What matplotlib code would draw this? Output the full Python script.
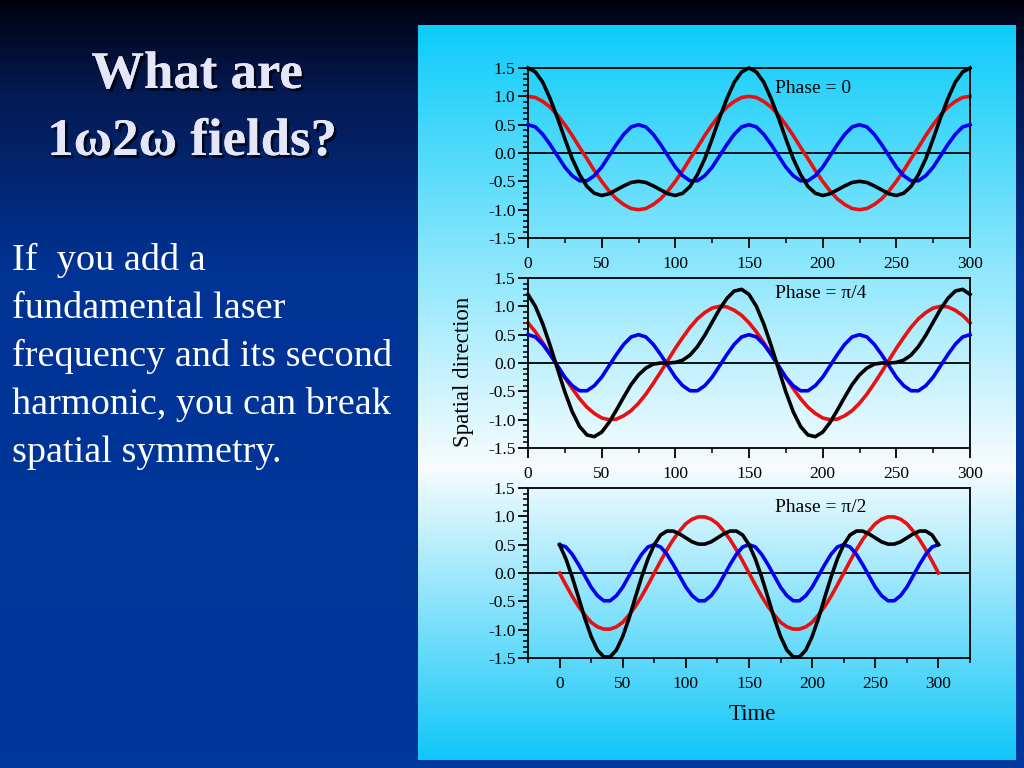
import numpy as np
import matplotlib
matplotlib.use("Agg")
import matplotlib.pyplot as plt
import matplotlib.patheffects as pe
from matplotlib.ticker import MultipleLocator, FormatStrFormatter

plt.rcParams["axes.unicode_minus"] = False
plt.rcParams["font.family"] = ["Liberation Serif", "DejaVu Serif"]

# Tempo (amostras a cada 5 unidades)
tempo = list(range(0, 301, 5))

# Harmônico (2w) - igual nos três painéis
azul = [0.50, 0.46, 0.33, 0.15, -0.05, -0.25, -0.40, -0.49, -0.49, -0.40, -0.25, -0.05, 0.15, 0.33, 0.46,
        0.50, 0.46, 0.33, 0.15, -0.05, -0.25, -0.40, -0.49, -0.49, -0.40, -0.25, -0.05, 0.15, 0.33, 0.46,
        0.50, 0.46, 0.33, 0.15, -0.05, -0.25, -0.40, -0.49, -0.49, -0.40, -0.25, -0.05, 0.15, 0.33, 0.46,
        0.50, 0.46, 0.33, 0.15, -0.05, -0.25, -0.40, -0.49, -0.49, -0.40, -0.25, -0.05, 0.15, 0.33, 0.46,
        0.50]

# Fase = 0
vermelho_0 = [1.00, 0.98, 0.91, 0.81, 0.67, 0.50, 0.31, 0.10, -0.10, -0.31, -0.50, -0.67, -0.81, -0.91, -0.98,
              -1.00, -0.98, -0.91, -0.81, -0.67, -0.50, -0.31, -0.10, 0.10, 0.31, 0.50, 0.67, 0.81, 0.91, 0.98,
              1.00, 0.98, 0.91, 0.81, 0.67, 0.50, 0.31, 0.10, -0.10, -0.31, -0.50, -0.67, -0.81, -0.91, -0.98,
              -1.00, -0.98, -0.91, -0.81, -0.67, -0.50, -0.31, -0.10, 0.10, 0.31, 0.50, 0.67, 0.81, 0.91, 0.98,
              1.00]
preto_0 = [1.50, 1.43, 1.25, 0.96, 0.62, 0.25, -0.10, -0.38, -0.59, -0.71, -0.75, -0.72, -0.65, -0.58, -0.52,
           -0.50, -0.52, -0.58, -0.65, -0.72, -0.75, -0.71, -0.59, -0.38, -0.10, 0.25, 0.62, 0.96, 1.25, 1.43,
           1.50, 1.43, 1.25, 0.96, 0.62, 0.25, -0.10, -0.38, -0.59, -0.71, -0.75, -0.72, -0.65, -0.58, -0.52,
           -0.50, -0.52, -0.58, -0.65, -0.72, -0.75, -0.71, -0.59, -0.38, -0.10, 0.25, 0.62, 0.96, 1.25, 1.43,
           1.50]

# Fase = pi/4
vermelho_pi4 = [0.71, 0.55, 0.36, 0.16, -0.05, -0.26, -0.45, -0.63, -0.78, -0.89, -0.97, -1.00, -0.99, -0.93, -0.84,
                -0.71, -0.55, -0.36, -0.16, 0.05, 0.26, 0.45, 0.63, 0.78, 0.89, 0.97, 1.00, 0.99, 0.93, 0.84,
                0.71, 0.55, 0.36, 0.16, -0.05, -0.26, -0.45, -0.63, -0.78, -0.89, -0.97, -1.00, -0.99, -0.93, -0.84,
                -0.71, -0.55, -0.36, -0.16, 0.05, 0.26, 0.45, 0.63, 0.78, 0.89, 0.97, 1.00, 0.99, 0.93, 0.84,
                0.71]
preto_pi4 = [1.21, 1.00, 0.69, 0.31, -0.10, -0.51, -0.86, -1.12, -1.27, -1.30, -1.22, -1.05, -0.83, -0.60, -0.38,
             -0.21, -0.09, -0.02, 0.00, 0.00, 0.01, 0.05, 0.14, 0.29, 0.49, 0.72, 0.95, 1.14, 1.27, 1.30,
             1.21, 1.00, 0.69, 0.31, -0.10, -0.51, -0.86, -1.12, -1.27, -1.30, -1.22, -1.05, -0.83, -0.60, -0.38,
             -0.21, -0.09, -0.02, 0.00, 0.00, 0.01, 0.05, 0.14, 0.29, 0.49, 0.72, 0.95, 1.14, 1.27, 1.30,
             1.21]

# Fase = pi/2
vermelho_pi2 = [0.00, -0.21, -0.41, -0.59, -0.74, -0.87, -0.95, -0.99, -0.99, -0.95, -0.87, -0.74, -0.59, -0.41, -0.21,
                0.00, 0.21, 0.41, 0.59, 0.74, 0.87, 0.95, 0.99, 0.99, 0.95, 0.87, 0.74, 0.59, 0.41, 0.21,
                0.00, -0.21, -0.41, -0.59, -0.74, -0.87, -0.95, -0.99, -0.99, -0.95, -0.87, -0.74, -0.59, -0.41, -0.21,
                0.00, 0.21, 0.41, 0.59, 0.74, 0.87, 0.95, 0.99, 0.99, 0.95, 0.87, 0.74, 0.59, 0.41, 0.21,
                0.00]
preto_pi2 = [0.50, 0.25, -0.07, -0.43, -0.80, -1.12, -1.36, -1.48, -1.48, -1.36, -1.12, -0.80, -0.43, -0.07, 0.25,
             0.50, 0.67, 0.74, 0.74, 0.69, 0.62, 0.55, 0.51, 0.51, 0.55, 0.62, 0.69, 0.74, 0.74, 0.67,
             0.50, 0.25, -0.07, -0.43, -0.80, -1.12, -1.36, -1.48, -1.48, -1.36, -1.12, -0.80, -0.43, -0.07, 0.25,
             0.50, 0.67, 0.74, 0.74, 0.69, 0.62, 0.55, 0.51, 0.51, 0.55, 0.62, 0.69, 0.74, 0.74, 0.67,
             0.50]

rotulos_fase = ["Phase = 0", "Phase = \u03c0/4", "Phase = \u03c0/2"]

titulo = ["What are", "1\u03c92\u03c9 fields?"]
texto = ["If  you add a", "fundamental laser", "frequency and its second",
         "harmonic, you can break", "spatial symmetry."]

W, H = 1024, 768
fig = plt.figure(figsize=(W / 100, H / 100), dpi=100)

# Fundo do slide (gradiente azul escuro)
bg = fig.add_axes([0, 0, 1, 1])
bg.set_xlim(0, W)
bg.set_ylim(H, 0)
bg.axis("off")

yy = np.linspace(0, 1, H)
stops = [0.0, 0.025, 0.12, 0.35, 1.0]
cores = np.array([[0.0, 0.0, 0.04], [0.0, 0.03, 0.12], [0.02, 0.10, 0.32], [0.0, 0.20, 0.58], [0.0, 0.22, 0.62]])
grad = np.stack([np.interp(yy, stops, cores[:, i]) for i in range(3)], axis=1)
bg.imshow(np.repeat(grad[:, None, :], 4, axis=1), extent=[0, W, H, 0], aspect="auto", zorder=0)

# Fundo da figura (ciano -> branco -> ciano)
yy2 = np.linspace(0, 1, 400)
stops2 = [0.0, 0.6, 1.0]
cores2 = np.array([[0.05, 0.80, 0.98], [0.97, 0.99, 1.0], [0.06, 0.78, 0.97]])
grad2 = np.stack([np.interp(yy2, stops2, cores2[:, i]) for i in range(3)], axis=1)
bg.imshow(np.repeat(grad2[:, None, :], 4, axis=1), extent=[418, 1016, 760, 25], aspect="auto", zorder=1)
bg.set_xlim(0, W)
bg.set_ylim(H, 0)

# Título
sombra = [pe.withSimplePatchShadow(offset=(2, -2), shadow_rgbFace="black", alpha=0.7), pe.Normal()]
bg.text(197, 88, titulo[0], fontsize=38, fontweight="bold", color="#e6e6fa",
        ha="center", va="baseline", path_effects=sombra, zorder=3)
bg.text(192, 155, titulo[1], fontsize=38, fontweight="bold", color="#e6e6fa",
        ha="center", va="baseline", path_effects=sombra, zorder=3)

# Texto
for i, linha in enumerate(texto):
    bg.text(12, 270 + i * 48, linha, fontsize=27.5, color="white", ha="left", va="baseline", zorder=3)

# Painéis
vermelhos = [vermelho_0, vermelho_pi4, vermelho_pi2]
pretos = [preto_0, preto_pi4, preto_pi2]
topos = [68, 278, 488]
limites = [(0, 300), (0, 300), (-25, 325)]

for i in range(3):
    ax = fig.add_axes([528 / W, 1 - (topos[i] + 170) / H, 442 / W, 170 / H])
    ax.set_facecolor("none")
    ax.axhline(0, color="black", lw=1.3, zorder=1)
    ax.plot(tempo, vermelhos[i], color="#e81010", lw=2.6, clip_on=False, zorder=2)
    ax.plot(tempo, azul, color="#0000f0", lw=2.6, clip_on=False, zorder=3)
    ax.plot(tempo, pretos[i], color="black", lw=2.6, clip_on=False, zorder=4)
    ax.set_xlim(*limites[i])
    ax.set_ylim(-1.5, 1.5)
    ax.xaxis.set_major_locator(MultipleLocator(50))
    ax.xaxis.set_minor_locator(MultipleLocator(25))
    ax.yaxis.set_major_locator(MultipleLocator(0.5))
    ax.yaxis.set_minor_locator(MultipleLocator(0.1))
    ax.yaxis.set_major_formatter(FormatStrFormatter("%.1f"))
    if i == 2:
        ax.set_xticks([0, 50, 100, 150, 200, 250, 300])
        ax.set_xticks([-25, 25, 75, 125, 175, 225, 275, 325], minor=True)
    ax.tick_params(which="major", direction="out", length=7, width=1.3, labelsize=12.5)
    ax.tick_params(axis="x", which="major", pad=6)
    ax.tick_params(axis="y", which="major", pad=2)
    ax.tick_params(which="minor", direction="out", length=3.5, width=1.1)
    for s in ax.spines.values():
        s.set_linewidth(1.3)
    ax.text(0.559, [0.882, 0.906, 0.888][i], rotulos_fase[i], transform=ax.transAxes,
            fontsize=14, ha="left", va="center")

bg.text(463, 372, "Spatial direction", fontsize=16.5, rotation=90, ha="center", va="center", zorder=3)
bg.text(752, 714, "Time", fontsize=16.5, ha="center", va="center", zorder=3)

fig.savefig("out.png", dpi=100)
